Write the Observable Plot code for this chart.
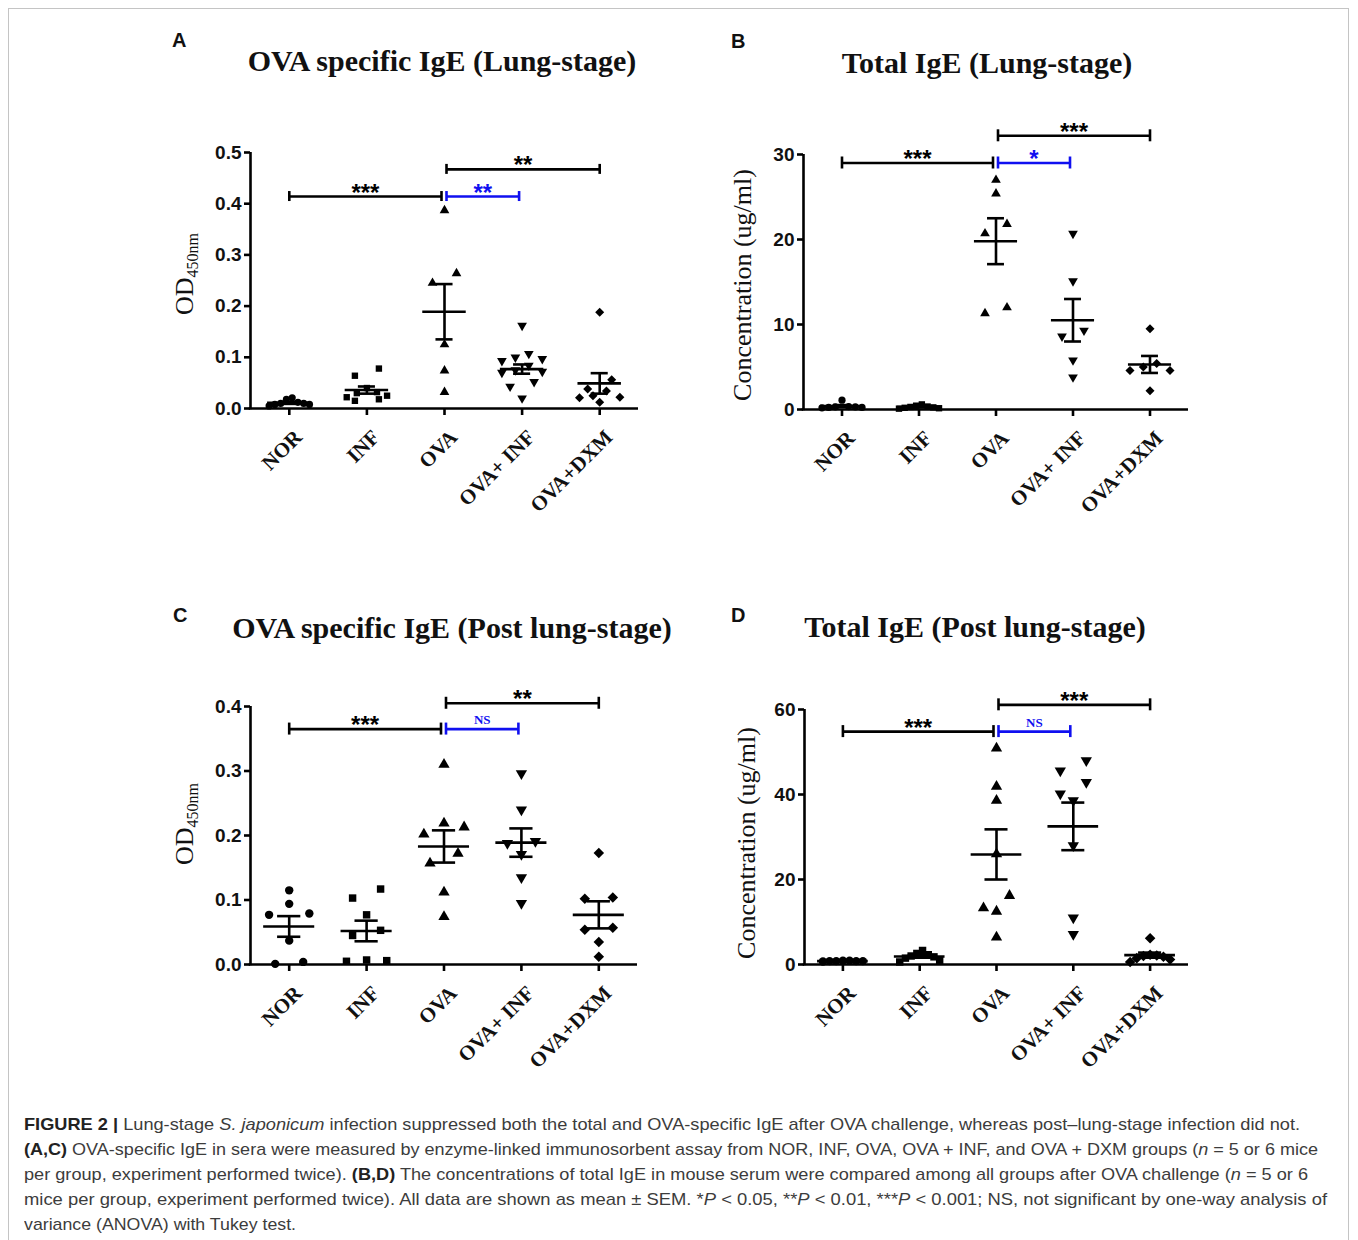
<!DOCTYPE html>
<html><head><meta charset="utf-8">
<script src="https://cdn.jsdelivr.net/npm/d3@7"></script>
<script src="https://cdn.jsdelivr.net/npm/@observablehq/plot@0.6"></script>
<style>
html,body{margin:0;padding:0;background:#fff;overflow:hidden;}
#fig{position:relative;width:1358px;height:1240px;overflow:hidden;background:#fff;}
.frame{position:absolute;left:8px;top:8px;width:1341px;height:1260px;border:1px solid #c4c4c4;box-sizing:border-box;}
.letter{position:absolute;font:bold 20px/1 "Liberation Sans",Arial,sans-serif;color:#111;}
.title{position:absolute;font:bold 30px/1 "Liberation Serif","Times New Roman",serif;white-space:nowrap;transform:translateX(-50%);color:#111;}
.ylab{position:absolute;font:26px/1 "Liberation Serif","Times New Roman",serif;white-space:nowrap;transform:translate(-50%,-50%) rotate(-90deg);color:#111;}
.ylab .sub{font-size:16px;position:relative;top:5px;}
.caption{position:absolute;left:24px;top:1112px;font:17px/25px "Liberation Sans",Arial,sans-serif;color:#3c3c3c;white-space:nowrap;}
.caption .cl span{display:inline-block;transform-origin:0 0;}
</style></head><body>
<div id="fig">
  <div class="frame"></div>
</div>
<script>
// ---------- data ----------
const groups = ["NOR", "INF", "OVA", "OVA+ INF", "OVA+DXM"];

// Panel A: OVA specific IgE (Lung-stage), OD450nm
const valsA = [
  [0.021, 0.018, 0.012, 0.010, 0.010, 0.008, 0.008, 0.005],
  [0.078, 0.064, 0.040, 0.032, 0.030, 0.025, 0.022, 0.018, 0.015],
  [0.387, 0.264, 0.245, 0.125, 0.074, 0.032],
  [0.162, 0.107, 0.100, 0.097, 0.093, 0.084, 0.075, 0.072, 0.070, 0.052, 0.043, 0.020],
  [0.188, 0.056, 0.038, 0.034, 0.025, 0.022, 0.021, 0.012]
];
const meanA = [0.011, 0.036, 0.189, 0.077, 0.049];
const semA = [0.002, 0.007, 0.054, 0.009, 0.020];
const yTicksA = [0, 0.1, 0.2, 0.3, 0.4, 0.5];
const bracketsA = [
  {from: 0, to: 2, y: 0.414, label: "***"},
  {from: 2, to: 3, y: 0.414, label: "**"},
  {from: 2, to: 4, y: 0.467, label: "**"}
];

// Panel B: Total IgE (Lung-stage), ug/ml
const valsB = [
  [1.1, 0.35, 0.3, 0.3, 0.25, 0.25, 0.2],
  [0.6, 0.45, 0.35, 0.3, 0.25, 0.2, 0.15, 0.1],
  [27.0, 25.4, 21.8, 20.7, 12.0, 11.3],
  [20.7, 15.1, 9.3, 8.6, 5.8, 3.8],
  [9.5, 5.4, 5.0, 4.6, 4.6, 2.2]
];
const meanB = [0.4, 0.3, 19.8, 10.5, 5.3];
const semB = [0.12, 0.06, 2.7, 2.5, 1.0];
const yTicksB = [0, 10, 20, 30];
const bracketsB = [
  {from: 0, to: 2, y: 29.0, label: "***"},
  {from: 2, to: 3, y: 29.0, label: "*"},
  {from: 2, to: 4, y: 32.2, label: "***"}
];

// Panel C: OVA specific IgE (Post lung-stage), OD450nm
const valsC = [
  [0.115, 0.094, 0.079, 0.077, 0.037, 0.004, 0.001],
  [0.117, 0.103, 0.077, 0.053, 0.045, 0.007, 0.006, 0.005],
  [0.310, 0.219, 0.213, 0.202, 0.172, 0.157, 0.112, 0.074],
  [0.296, 0.240, 0.191, 0.188, 0.171, 0.135, 0.095],
  [0.173, 0.104, 0.102, 0.057, 0.054, 0.035, 0.012]
];
const meanC = [0.059, 0.052, 0.183, 0.189, 0.077];
const semC = [0.016, 0.016, 0.025, 0.022, 0.021];
const yTicksC = [0, 0.1, 0.2, 0.3, 0.4];
const bracketsC = [
  {from: 0, to: 2, y: 0.365, label: "***"},
  {from: 2, to: 3, y: 0.365, label: "NS"},
  {from: 2, to: 4, y: 0.405, label: "**"}
];

// Panel D: Total IgE (Post lung-stage), ug/ml
const valsD = [
  [0.9, 0.9, 0.8, 0.8, 0.8, 0.8, 0.7],
  [3.3, 2.6, 2.3, 2.0, 1.8, 1.5, 1.0, 0.6],
  [50.9, 41.9, 38.6, 26.0, 16.2, 13.3, 12.5, 6.4],
  [48.0, 45.6, 42.9, 40.2, 38.6, 28.0, 11.0, 7.1],
  [6.2, 2.3, 2.1, 2.0, 1.8, 1.5, 1.2, 0.6]
];
const meanD = [0.8, 1.9, 25.9, 32.5, 2.2];
const semD = [0.05, 0.3, 5.9, 5.6, 0.6];
const yTicksD = [0, 20, 40, 60];
const bracketsD = [
  {from: 0, to: 2, y: 54.8, label: "***"},
  {from: 2, to: 3, y: 54.8, label: "NS"},
  {from: 2, to: 4, y: 61.1, label: "***"}
];

// ---------- styling / layout ----------
const SANS = '"Liberation Sans", Arial, sans-serif';
const SERIF = '"Liberation Serif", "Times New Roman", serif';
const BLUE = "#1010f0";
const SW = 2.6;

const triDown = {draw(ctx, size) {
  const y = -Math.sqrt(size / (Math.sqrt(3) * 3));
  ctx.moveTo(0, -y * 2); ctx.lineTo(-Math.sqrt(3) * y, y); ctx.lineTo(Math.sqrt(3) * y, y); ctx.closePath();
}};
const diamondSq = {draw(ctx, size) {
  const s = Math.sqrt(size / 2);
  ctx.moveTo(0, -s); ctx.lineTo(s, 0); ctx.lineTo(0, s); ctx.lineTo(-s, 0); ctx.closePath();
}};
const symbols = ["circle", "square", "triangle", triDown, diamondSq];

// GraphPad-like column scatter: points close in y share a row, spread symmetrically
function dodge(vs, gi, ppu, step, r, spMax) {
  const sorted = vs.slice().sort((a, b) => b - a);
  const rows = [];
  const th = 2 * r * 1.5, maxW = 0.52 * step;
  for (const v of sorted) {
    const last = rows[rows.length - 1];
    if (last && (last[0] - v) * ppu < th) last.push(v); else rows.push([v]);
  }
  const out = [];
  for (const row of rows) {
    const n = row.length;
    const s = n > 1 ? Math.min(spMax, maxW / (n - 1)) : 0;
    const slots = d3.range(n).map(k => k - (n - 1) / 2)
      .sort((a, b) => Math.abs(a) - Math.abs(b) || b - a);
    row.forEach((v, k) => out.push({x: gi + (slots[k] * s) / step, y: v}));
  }
  return out;
}

function makePanel(vals, means, sems, brackets, yTicks, yFmt, L) {
  const ML = 100, MR = 24, MT = 80, MB = 140;
  const W = (L.xR - L.xL) + ML + MR, H = (L.y0 - L.yT) + MT + MB;
  const yMax = yTicks[yTicks.length - 1];
  const ppu = (L.y0 - L.yT) / yMax;
  const step = (L.xR - L.xL) / 5;
  const px2x = p => p / step, px2y = p => p / ppu;
  const idx = d3.range(5);
  const marks = [];
  // axes
  marks.push(Plot.ruleX([-0.5], {x: d => d, y1: () => -px2y(1.3), y2: () => yMax, strokeWidth: SW}));
  marks.push(Plot.ruleY([0], {y: d => d, x1: () => -0.5 - px2x(1.3), x2: () => 4.5, strokeWidth: SW}));
  marks.push(Plot.ruleY(yTicks, {y: d => d, x1: () => -0.5 - px2x(6), x2: () => -0.5, strokeWidth: SW}));
  marks.push(Plot.text(yTicks, {x: () => -0.5, y: d => d, text: yFmt, textAnchor: "end", dx: -9, fontSize: 19, fontWeight: "bold", fontFamily: SANS, fill: "#111"}));
  marks.push(Plot.ruleX(idx, {x: d => d, y1: () => 0, y2: () => -px2y(7), strokeWidth: SW}));
  marks.push(Plot.text(groups, {x: (d, i) => i, y: () => 0, text: d => d, rotate: -45, textAnchor: "end", lineAnchor: "bottom", dx: 14, dy: 30, fontSize: 21, fontWeight: "bold", fontFamily: SERIF, fill: "#111"}));
  // points
  vals.forEach((vs, gi) => {
    marks.push(Plot.dot(dodge(vs, gi, ppu, step, L.r, L.spMax), {x: "x", y: "y", r: L.r, symbol: symbols[gi], fill: "black", stroke: "none"}));
  });
  // mean ± SEM
  marks.push(Plot.ruleY(idx, {y: i => means[i], x1: i => i - L.meanW / 2, x2: i => i + L.meanW / 2, strokeWidth: SW}));
  marks.push(Plot.ruleY(idx, {y: i => means[i] + sems[i], x1: i => i - L.capW / 2, x2: i => i + L.capW / 2, strokeWidth: SW}));
  marks.push(Plot.ruleY(idx, {y: i => means[i] - sems[i], x1: i => i - L.capW / 2, x2: i => i + L.capW / 2, strokeWidth: SW}));
  marks.push(Plot.ruleX(idx, {x: i => i, y1: i => means[i] - sems[i], y2: i => means[i] + sems[i], strokeWidth: SW}));
  // significance brackets
  for (const b of brackets) {
    const color = (b.from === 2 && b.to === 3) ? BLUE : "black";
    const a = b.from + (b.from === 2 ? px2x(2) : 0);
    const e = b.to - ((b.to === 2 || b.to === 3) ? px2x(3) : 0);
    marks.push(Plot.ruleY([b], {y: d => d.y, x1: () => a, x2: () => e, stroke: color, strokeWidth: SW}));
    marks.push(Plot.ruleX([a, e], {x: d => d, y1: () => b.y - px2y(L.capH), y2: () => b.y + px2y(L.capH), stroke: color, strokeWidth: SW}));
    const ns = b.label === "NS";
    marks.push(Plot.text([b], {x: () => (a + e) / 2, y: d => d.y, text: d => d.label, fill: color, lineAnchor: "bottom",
      dy: ns ? -5 : 4, fontSize: ns ? 13 : 24, fontWeight: "bold", fontFamily: ns ? SERIF : SANS}));
  }
  const svg = Plot.plot({
    width: W, height: H, marginLeft: ML, marginRight: MR, marginTop: MT, marginBottom: MB,
    x: {domain: [-0.5, 4.5], axis: null},
    y: {domain: [0, yMax], axis: null},
    style: {overflow: "visible", background: "transparent"},
    marks
  });
  svg.style.position = "absolute";
  svg.style.left = (L.xL - ML) + "px";
  svg.style.top = (L.yT - MT) + "px";
  svg.style.maxWidth = "none";
  return svg;
}

const fig = document.getElementById("fig");
const f1 = d3.format(".1f"), f0 = d => String(d);
fig.appendChild(makePanel(valsA, meanA, semA, bracketsA, yTicksA, f1, {xL: 250, xR: 638, y0: 408, yT: 152, r: 3.6, spMax: 24, meanW: 0.56, capW: 0.22, capH: 5}));
fig.appendChild(makePanel(valsB, meanB, semB, bracketsB, yTicksB, f0, {xL: 803, xR: 1188, y0: 409, yT: 154, r: 3.6, spMax: 22, meanW: 0.56, capW: 0.22, capH: 6}));
fig.appendChild(makePanel(valsC, meanC, semC, bracketsC, yTicksC, f1, {xL: 250, xR: 637, y0: 964, yT: 706, r: 4.2, spMax: 28, meanW: 0.66, capW: 0.3, capH: 6}));
fig.appendChild(makePanel(valsD, meanD, semD, bracketsD, yTicksD, f0, {xL: 804, xR: 1188, y0: 964, yT: 709, r: 4.2, spMax: 26, meanW: 0.66, capW: 0.3, capH: 6}));

// ---------- text: letters, titles, axis labels, caption ----------
const html = `
<div class="letter" style="left:172px;top:30px">A</div>
<div class="letter" style="left:731px;top:31px">B</div>
<div class="letter" style="left:173px;top:605px">C</div>
<div class="letter" style="left:731px;top:605px">D</div>
<div class="title" style="left:442px;top:46px">OVA specific IgE (Lung-stage)</div>
<div class="title" style="left:987px;top:48px">Total IgE (Lung-stage)</div>
<div class="title" style="left:452px;top:613px">OVA specific IgE (Post lung-stage)</div>
<div class="title" style="left:975px;top:612px">Total IgE (Post lung-stage)</div>
<div class="ylab" style="left:185px;top:274px">OD<span class="sub">450nm</span></div>
<div class="ylab" style="left:743px;top:285px">Concentration (ug/ml)</div>
<div class="ylab" style="left:185px;top:824px">OD<span class="sub">450nm</span></div>
<div class="ylab" style="left:747px;top:843px">Concentration (ug/ml)</div>
<div class="caption">
<div class="cl" data-w="1276"><span><b style="color:#222">FIGURE 2 |</b> Lung-stage <i>S. japonicum</i> infection suppressed both the total and OVA-specific IgE after OVA challenge, whereas post–lung-stage infection did not.</span></div>
<div class="cl" data-w="1294"><span><b style="color:#222">(A,C)</b> OVA-specific IgE in sera were measured by enzyme-linked immunosorbent assay from NOR, INF, OVA, OVA + INF, and OVA + DXM groups (<i>n</i> = 5 or 6 mice</span></div>
<div class="cl" data-w="1284"><span>per group, experiment performed twice). <b style="color:#222">(B,D)</b> The concentrations of total IgE in mouse serum were compared among all groups after OVA challenge (<i>n</i> = 5 or 6</span></div>
<div class="cl" data-w="1303"><span>mice per group, experiment performed twice). All data are shown as mean ± SEM. *<i>P</i> &lt; 0.05, **<i>P</i> &lt; 0.01, ***<i>P</i> &lt; 0.001; NS, not significant by one-way analysis of</span></div>
<div class="cl" data-w="272"><span>variance (ANOVA) with Tukey test.</span></div>
</div>`;
fig.insertAdjacentHTML("beforeend", html);
document.querySelectorAll(".caption .cl").forEach(div => {
  const span = div.querySelector("span");
  const w = span.getBoundingClientRect().width;
  const target = +div.dataset.w;
  if (w > 0) span.style.transform = `scaleX(${target / w})`;
});
</script>
</body></html>
